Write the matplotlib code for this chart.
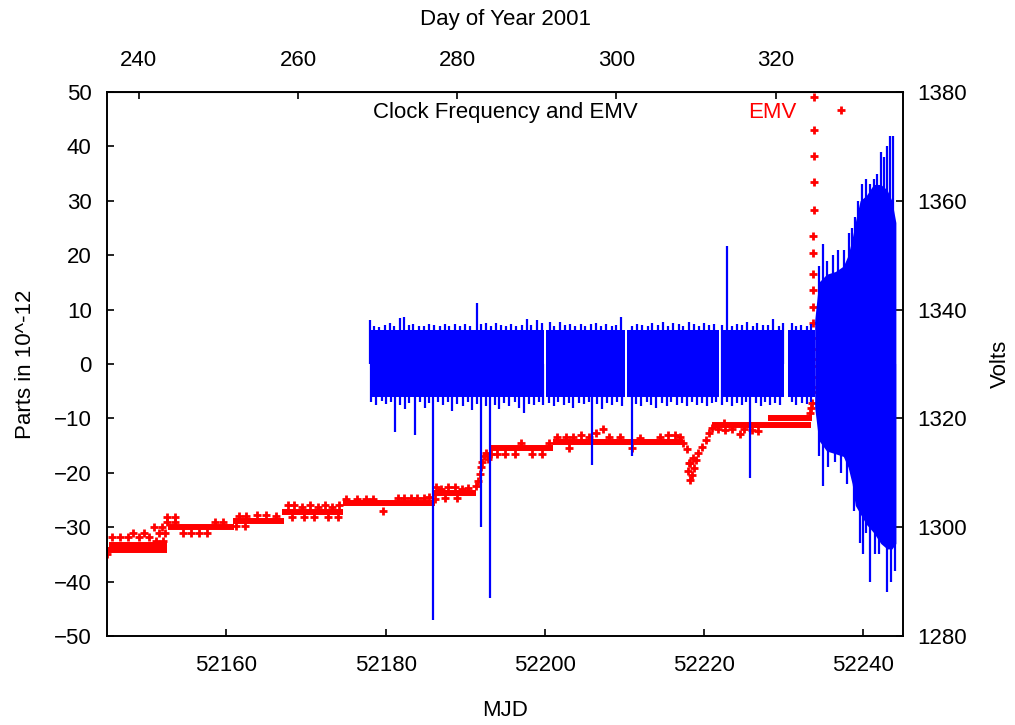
# Clock frequency (blue) and EMV (red) vs MJD, gnuplot-like look
import numpy as np
import matplotlib
matplotlib.use('Agg')
import matplotlib.pyplot as plt

plt.rcParams['font.family'] = ['Liberation Sans', 'DejaVu Sans']
plt.rcParams['font.size'] = 16

# ---- clock frequency (parts in 10^-12) ----
# solid core of the noise band, one row per continuous stretch
seg_start = [52178.0, 52200.1, 52210.3, 52222.1, 52230.6]
seg_end = [52199.95, 52210.1, 52221.9, 52230.0, 52233.95]
seg_hi = [6.2, 6.2, 6.2, 6.2, 6.2]
seg_lo = [-6.0, -6.0, -6.0, -6.0, -6.0]

# widening band at the end
grow_t = [52233.9, 52234.4, 52235.4, 52236.5, 52237.5, 52238.1, 52238.6, 52239.0,
          52239.6, 52240.4, 52241.3, 52242.2, 52243.0, 52243.6, 52244.1]
grow_hi = [8, 15, 16.5, 17, 18, 20, 23, 26, 30, 31, 33, 33, 32, 30, 26]
grow_lo = [-8, -14, -16, -16.5, -17, -19, -22, -26, -27.5, -29.5, -31, -33, -34, -34, -33]

# upward excursions (tips)
up_t = [52178.1, 52178.6, 52179.2, 52179.9, 52180.5, 52181.1, 52181.8, 52182.3, 52182.9, 52183.5,
        52184.2, 52184.8, 52185.5, 52186.1, 52186.8, 52187.4, 52188.0, 52188.7, 52189.3, 52190.0,
        52190.6, 52191.5, 52192.0, 52192.6, 52193.2, 52193.9, 52194.5, 52195.1, 52195.8, 52196.4,
        52197.1, 52197.7, 52198.3, 52199.0, 52199.6, 52200.6, 52201.2, 52201.9, 52202.5, 52203.2,
        52203.8, 52204.5, 52205.1, 52205.8, 52206.4, 52207.0, 52207.7, 52208.4, 52209.0, 52209.6,
        52210.9, 52211.6, 52212.2, 52212.9, 52213.5, 52214.2, 52214.8, 52215.5, 52216.1, 52216.8,
        52217.4, 52218.1, 52218.7, 52219.4, 52220.0, 52220.6, 52221.3, 52222.2, 52222.9, 52223.5,
        52224.1, 52224.8, 52225.4, 52226.1, 52226.7, 52227.4, 52228.0, 52228.7, 52229.4, 52229.9,
        52231.0, 52231.6, 52232.2, 52232.9, 52233.5,
        52234.4, 52235.0, 52235.5, 52236.2, 52236.8, 52237.6, 52238.2, 52238.6, 52239.0, 52239.4,
        52239.8, 52240.3, 52240.8, 52241.3, 52241.7, 52242.2, 52242.6, 52243.0, 52243.4, 52243.8]
up_v = [8.0, 7.0, 6.8, 7.2, 7.6, 7.0, 8.4, 8.6, 7.2, 7.3,
        6.9, 7.0, 7.4, 7.2, 6.9, 7.4, 7.0, 7.4, 7.0, 7.3,
        7.0, 11.2, 7.3, 7.5, 7.0, 7.5, 7.1, 7.0, 7.3, 6.9,
        7.1, 8.2, 7.2, 8.0, 7.5, 7.7, 7.0, 7.8, 7.1, 7.4,
        7.0, 7.4, 7.0, 7.3, 7.5, 7.0, 7.4, 7.0, 7.2, 8.7,
        7.0, 7.4, 7.2, 7.0, 7.6, 7.1, 7.8, 7.0, 7.5, 7.3,
        7.0, 7.8, 7.4, 7.0, 7.6, 7.1, 7.4, 7.2, 21.7, 7.0,
        7.4, 7.2, 7.8, 7.0, 7.6, 7.2, 7.1, 8.2, 7.0, 7.5,
        7.5, 7.0, 7.2, 7.0, 7.3,
        18, 22, 19, 20, 21, 21, 24, 25, 27, 30,
        33, 34, 33, 34, 35, 39, 38, 40, 42, 42]

# downward excursions (tips)
dn_t = [52178.2, 52178.8, 52179.5, 52180.1, 52180.7, 52181.2, 52181.8, 52182.4, 52183.0, 52183.7,
        52184.3, 52184.9, 52185.5, 52186.0, 52186.6, 52187.2, 52187.8, 52188.4, 52189.0, 52189.7,
        52190.3, 52190.9, 52191.5, 52192.0, 52192.6, 52193.1, 52193.7, 52194.3, 52194.9, 52195.5,
        52196.2, 52196.8, 52197.4, 52198.0, 52198.7, 52199.3, 52199.8, 52200.5, 52201.1, 52201.7,
        52202.4, 52203.0, 52203.6, 52204.3, 52204.9, 52205.5, 52205.9, 52206.6, 52207.2, 52207.8,
        52208.5, 52209.1, 52209.7, 52210.9, 52211.5, 52212.1, 52212.8, 52213.4, 52214.0, 52214.7,
        52215.3, 52215.9, 52216.6, 52217.2, 52217.8, 52218.5, 52219.1, 52219.7, 52220.4, 52221.0,
        52221.5, 52222.3, 52222.9, 52223.5, 52224.2, 52224.8, 52225.3, 52225.8, 52226.5, 52227.1,
        52227.7, 52228.3, 52228.9, 52229.5, 52231.0, 52231.6, 52232.3, 52232.9, 52233.5,
        52234.5, 52234.9, 52235.6, 52236.5, 52237.2, 52238.0, 52238.8, 52239.6, 52240.0, 52240.4,
        52240.9, 52241.5, 52242.0, 52242.6, 52243.0, 52243.5, 52244.0]
dn_v = [-7.0, -7.5, -6.8, -7.4, -7.0, -12.5, -7.5, -8.3, -7.2, -13.0,
        -7.0, -8.0, -7.2, -47.0, -7.0, -7.6, -7.0, -8.6, -7.3, -7.8,
        -7.0, -8.5, -7.4, -30.0, -7.8, -43.0, -7.5, -8.2, -7.2, -7.8,
        -7.0, -8.0, -9.0, -7.3, -7.6, -7.0, -7.5, -7.2, -7.8, -7.0,
        -7.6, -7.2, -8.0, -7.1, -7.4, -7.0, -18.5, -7.4, -8.2, -7.2,
        -7.6, -7.0, -7.8, -17.0, -7.3, -7.8, -7.0, -7.5, -8.0, -7.2,
        -7.8, -7.0, -7.6, -7.2, -7.8, -7.0, -7.5, -7.2, -7.8, -7.2,
        -7.0, -7.6, -7.0, -7.8, -7.2, -7.5, -7.0, -21.0, -7.2, -7.8,
        -7.0, -7.5, -7.2, -7.6, -7.0, -7.5, -7.2, -7.4, -7.0,
        -17, -22.5, -19, -18, -20, -22, -27, -33, -35, -31,
        -40, -35, -35, -33, -42, -40, -38]

# ---- EMV (volts) ----
# flat levels
lev_start = [52145.0, 52145.3, 52152.7, 52160.8, 52167.0, 52174.6, 52186.0, 52193.3, 52201.0, 52221.0, 52228.0]
lev_end = [52152.5, 52152.5, 52161.0, 52167.2, 52174.6, 52186.2, 52191.4, 52201.0, 52217.4, 52233.5, 52233.6]
lev_v = [1295.8, 1296.7, 1300.0, 1301.2, 1302.7, 1304.4, 1306.2, 1314.5, 1315.6, 1318.8, 1320.0]

# scattered samples, ramps and the final climb
emv_t = [52145.0, 52145.6, 52146.6, 52147.6, 52148.3, 52149.0, 52149.6, 52150.3, 52150.9, 52151.5,
         52151.9, 52152.3, 52151.2, 52152.0,
         52152.5, 52153.5, 52152.6, 52153.5, 52154.6, 52155.6, 52156.6, 52157.6, 52158.6, 52159.6,
         52161.2, 52162.4, 52161.6, 52162.5, 52163.8, 52165.0, 52166.2,
         52167.7, 52168.5, 52169.5, 52170.5, 52171.5, 52172.4, 52173.3, 52174.2, 52168.2, 52169.8,
         52171.0, 52172.8, 52174.0,
         52175.0, 52176.4, 52177.6, 52178.4, 52179.7, 52181.5, 52182.3, 52183.2, 52184.0, 52184.8, 52185.5,
         52186.3, 52187.0, 52187.9, 52188.7, 52189.6, 52190.4, 52186.2, 52187.4, 52189.0,
         52191.3, 52191.6, 52191.8, 52192.0, 52192.1, 52192.3, 52192.6, 52192.9, 52193.2,
         52194.0, 52195.0, 52196.3, 52197.0, 52198.4, 52199.6, 52200.5,
         52201.5, 52202.6, 52203.6, 52204.5, 52205.5, 52206.4, 52207.3, 52208.0, 52209.5, 52212.0,
         52214.5, 52215.5, 52216.3, 52217.0, 52203.0, 52211.0,
         52217.4, 52217.8, 52218.1, 52218.0, 52218.2, 52218.5, 52218.7, 52219.0, 52219.3, 52219.8,
         52220.2, 52220.6, 52221.0, 52218.3, 52218.6,
         52221.8, 52222.6, 52223.5, 52224.5, 52225.0, 52226.0, 52226.8, 52222.5,
         52233.3, 52233.5, 52233.6, 52233.6, 52233.6, 52233.65, 52233.65, 52233.7, 52233.7, 52233.7,
         52233.7, 52233.75, 52233.75, 52233.75, 52233.75, 52233.75, 52233.8, 52233.8, 52233.8, 52233.8,
         52233.8]
emv_v = [1295.0, 1298.2, 1298.2, 1298.2, 1299.0, 1298.2, 1299.0, 1298.2, 1300.0, 1299.0,
         1300.0, 1299.0, 1297.5, 1297.5,
         1301.8, 1301.8, 1301.0, 1301.0, 1299.0, 1299.0, 1299.0, 1299.0, 1301.0, 1301.0,
         1300.2, 1300.2, 1302.0, 1302.0, 1302.2, 1302.2, 1302.0,
         1304.0, 1304.0, 1303.8, 1304.0, 1303.8, 1304.0, 1303.7, 1304.0, 1301.8, 1301.8,
         1301.8, 1301.8, 1301.8,
         1305.2, 1305.2, 1305.2, 1305.2, 1303.0, 1305.3, 1305.3, 1305.3, 1305.3, 1305.3, 1305.5,
         1307.4, 1307.0, 1307.4, 1307.4, 1307.0, 1307.2, 1305.2, 1305.4, 1305.4,
         1307.6, 1308.5, 1309.8, 1311.0, 1312.0, 1313.0, 1313.6, 1312.6, 1313.4,
         1313.5, 1313.5, 1313.5, 1315.4, 1313.5, 1313.5, 1315.4,
         1316.6, 1316.6, 1316.6, 1317.0, 1316.6, 1317.4, 1318.0, 1316.6, 1316.6, 1316.4,
         1316.6, 1317.0, 1317.0, 1316.6, 1314.5, 1314.5,
         1315.5, 1314.3, 1311.8, 1310.3, 1308.7, 1309.6, 1310.8, 1312.4, 1313.6, 1314.8,
         1316.1, 1317.3, 1318.2, 1311.8, 1312.8,
         1318.0, 1317.8, 1318.0, 1317.2, 1318.0, 1317.8, 1317.6, 1319.2,
         1321.0, 1322.0, 1322.8, 1324.9, 1325.8, 1327.6, 1329.6, 1330.9, 1332.8, 1334.8,
         1337.5, 1340.5, 1343.6, 1346.5, 1350.4, 1353.5, 1358.3, 1363.4, 1368.2, 1373.0,
         1379.1]

mjd_ticks = [52160, 52180, 52200, 52220, 52240]
doy_ticks = [240, 260, 280, 300, 320]
MJD_DAY0 = 51909  # MJD of 2000-12-31, so day 1 = 2001-01-01

fig = plt.figure(figsize=(10.15, 7.25), dpi=100)
ax = fig.add_axes([0.1054, 0.1228, 0.7843, 0.7503])
ax2 = ax.twinx()
ax.set_zorder(ax2.get_zorder() + 1)
ax.patch.set_visible(False)

# red EMV on the right axis
ax2.hlines(lev_v, lev_start, lev_end, color='red', lw=4.3)
ax2.plot(emv_t, emv_v, '+', color='red', ms=5.5, mew=2.0, label='EMV')

# blue clock frequency on the left axis
for s, e, hi, lo in zip(seg_start, seg_end, seg_hi, seg_lo):
    ax.fill_between([s, e], [lo, lo], [hi, hi], color='blue', lw=0)
ax.fill_between(grow_t, grow_lo, grow_hi, color='blue', lw=0)
ax.vlines(up_t, 0, up_v, color='blue', lw=1.6)
ax.vlines(dn_t, dn_v, 0, color='blue', lw=1.6)

ax.set_xlim(52145, 52245)
ax.set_ylim(-50, 50)
ax2.set_ylim(1280, 1380)
ax.set_xticks(mjd_ticks)
ax.set_yticks(range(-50, 51, 10))
ax2.set_yticks(range(1280, 1381, 20))

ax.tick_params(direction='in', length=5, width=1.2, labelsize=16, pad=14, top=False, right=False)
ax.tick_params(axis='y', pad=11)
ax2.tick_params(direction='in', length=5, width=1.2, labelsize=16, pad=10)
for a in (ax, ax2):
    for sp in a.spines.values():
        sp.set_linewidth(1.2)

sec = ax.secondary_xaxis('top', functions=(lambda m: m - MJD_DAY0, lambda d: d + MJD_DAY0))
sec.set_xticks(doy_ticks)
sec.tick_params(direction='in', length=5, width=1.2, labelsize=16, pad=15)
sec.set_xlabel('Day of Year 2001', fontsize=16, labelpad=18)

ax.set_xlabel('MJD', fontsize=16, labelpad=17)
ax.set_ylabel('Parts in 10^-12', fontsize=16, labelpad=13)
ax2.set_ylabel('Volts', fontsize=16, labelpad=17)

ax.text(0.5, 0.963, 'Clock Frequency and EMV', transform=ax.transAxes,
        ha='center', va='center', fontsize=16)
leg = ax2.legend(loc='center', bbox_to_anchor=(0.878, 0.963), frameon=False, markerfirst=False,
                 numpoints=1, handlelength=2, handletextpad=1.0, fontsize=16)
for t in leg.get_texts():
    t.set_color('red')

fig.savefig('out.png', dpi=100)
